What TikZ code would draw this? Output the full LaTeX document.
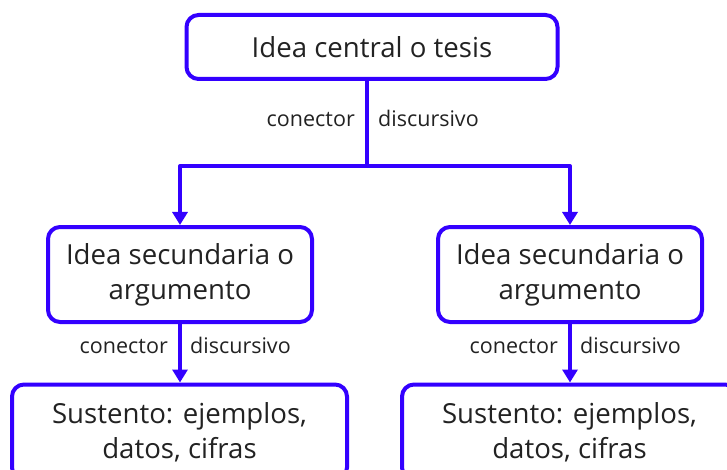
\documentclass[tikz,border=0pt]{standalone}
\usepackage{fontspec}
\setmainfont{Open Sans}
\usetikzlibrary{arrows.meta}
\begin{document}
\begin{tikzpicture}[x=1pt,y=-1pt,line join=round,
	idea/.style={draw=custcol_blue, line width=4pt, rounded corners=12pt, align=center,
		inner sep=0, text=custcol_ink, font=\fontsize{27.6pt}{35pt}\selectfont},
	conn/.style={draw=custcol_blue, line width=4pt},
	arr/.style={conn, -{Triangle[width=15pt,length=13pt]}},
	tag/.style={inner sep=0, text=custcol_ink, font=\fontsize{21.5pt}{24pt}\selectfont}]
	\definecolor{custcol_blue}{RGB}{51, 0, 255}
	\definecolor{custcol_ink}{RGB}{34, 34, 34}
	\useasboundingbox (0,0) rectangle (727,470);
	\clip (0,0) rectangle (727,470);
	% boxes
	\node[idea, minimum width=371pt, minimum height=64pt] (tesis) at (372,47) {Idea central o tesis};
	\node[idea, minimum width=264pt, minimum height=95pt] (argA) at (180,274.5) {Idea secundaria o\\argumento};
	\node[idea, minimum width=264pt, minimum height=95pt] (argB) at (570,274.5) {Idea secundaria o\\argumento};
	\node[idea, minimum width=335pt, minimum height=95pt] (sustA) at (179.5,432) {Sustento: ejemplos,\\datos, cifras};
	\node[idea, minimum width=335pt, minimum height=95pt] (sustB) at (569.5,432) {Sustento: ejemplos,\\datos, cifras};
	% connectors
	\coordinate (fork) at (367,166);
	\draw[conn] (tesis.south -| fork) -- (fork);
	\draw[arr] (fork) -| (argA.north);
	\draw[arr] (fork) -| (argB.north);
	\draw[arr] (argA) -- (sustA.north -| argA);
	\draw[arr] (argB) -- (sustB.north -| argB);
	% labels
	\node[tag, anchor=base east] (conT) at (355,127) {conector};
	\node[tag, anchor=base west] (disT) at (378,127) {discursivo};
	\node[tag, anchor=base east] (conA) at (168,353) {conector};
	\node[tag, anchor=base west] (disA) at (190,353) {discursivo};
	\node[tag, anchor=base east] (conB) at (558,353) {conector};
	\node[tag, anchor=base west] (disB) at (580,353) {discursivo};
\end{tikzpicture}
\end{document}
